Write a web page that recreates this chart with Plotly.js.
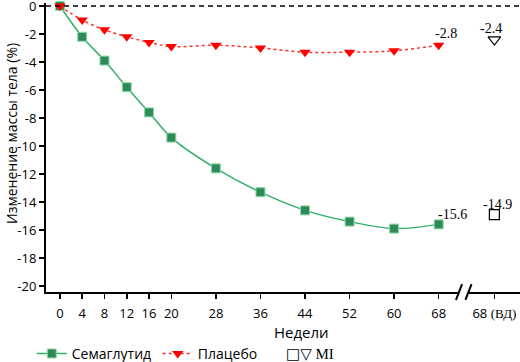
<!DOCTYPE html>
<html>
<head>
<meta charset="utf-8">
<script src="https://cdn.plot.ly/plotly-3.0.1.min.js"></script>
<style>html,body{margin:0;padding:0;background:#fff}#chart{width:520px;height:362px}</style>
</head>
<body>
<div id="chart"></div>
<script>
// Weeks of observation
const weeks = [0, 4, 8, 12, 16, 20, 28, 36, 44, 52, 60, 68];
// Mean body-weight change (%) by week
const semaglutide = [0, -2.2, -3.9, -5.8, -7.6, -9.4, -11.6, -13.3, -14.6, -15.4, -15.9, -15.6];
const placebo = [0, -1.0, -1.7, -2.2, -2.6, -2.9, -2.8, -3.0, -3.3, -3.3, -3.2, -2.8];
// Multiple-imputation estimates at week 68, plotted after the axis break
const miWeek = 78;
const miSemaglutide = -14.9;
const miPlacebo = -2.4;
// Axis ticks
const xTickVals = [0, 4, 8, 12, 16, 20, 28, 36, 44, 52, 60, 68, 78];
const xTickText = ['0', '4', '8', '12', '16', '20', '28', '36', '44', '52', '60', '68',
  '68 <span style="font-family:Liberation Serif">(ВД)</span>'];
const yTickVals = [0, -2, -4, -6, -8, -10, -12, -14, -16, -18, -20];
const yTickText = ['0', '-2', '-4', '-6', '-8', '-10', '-12', '-14', '-16', '-18', '-20'];

const serif = 'Liberation Serif, Times New Roman, serif';
const sans = 'Open Sans, Noto Sans, sans-serif';

const traces = [
  {
    x: weeks, y: semaglutide, name: 'Семаглутид', mode: 'lines+markers', cliponaxis: false,
    line: {color: '#33b06a', width: 1.5, shape: 'spline'},
    marker: {symbol: 'square', size: 9, color: '#2e8b57', line: {color: '#8fd9a8', width: 1}}
  },
  {
    x: weeks, y: placebo, name: 'Плацебо', mode: 'lines+markers', cliponaxis: false,
    line: {color: '#ff3030', width: 1.5, shape: 'spline', dash: 'dot'},
    marker: {symbol: 'triangle-down', size: 10, color: '#ff0000', line: {width: 0}}
  },
  {
    x: [miWeek], y: [miSemaglutide], mode: 'markers', showlegend: false,
    marker: {symbol: 'square-open', size: 10, color: '#000', line: {width: 1.2}}
  },
  {
    x: [miWeek], y: [miPlacebo], mode: 'markers', showlegend: false,
    marker: {symbol: 'triangle-down-open', size: 11, color: '#000', line: {width: 1.2}}
  }
];

const valueLabel = (x, y, xshift, yshift) => ({
  x: x, y: y, text: String(y), showarrow: false, xref: 'x', yref: 'y',
  xshift: xshift, yshift: yshift, font: {family: serif, size: 14, color: '#000'}
});

const layout = {
  width: 520, height: 362,
  margin: {l: 46, r: 0, t: 3, b: 70, autoexpand: false},
  paper_bgcolor: '#fff', plot_bgcolor: '#fff',
  font: {family: sans, size: 13, color: '#000'},
  xaxis: {
    range: [-2.5, 82.6], tickmode: 'array', tickvals: xTickVals, ticktext: xTickText,
    showline: true, linecolor: '#000', linewidth: 2, ticks: 'outside', ticklen: 5,
    tickwidth: 1.5, tickcolor: '#000', showgrid: false, zeroline: false,
    ticklabelstandoff: 3, ticklabeloverflow: 'allow', automargin: false,
    tickfont: {family: sans, size: 13}
  },
  yaxis: {
    range: [-20.43, 0.214], tickmode: 'array', tickvals: yTickVals, ticktext: yTickText,
    showline: true, linecolor: '#000', linewidth: 2, ticks: 'outside', ticklen: 5,
    tickwidth: 1.5, tickcolor: '#000', showgrid: false, zeroline: false,
    ticklabeloverflow: 'allow', automargin: false, tickfont: {family: sans, size: 13}
  },
  showlegend: true,
  legend: {
    orientation: 'h', x: -0.03, y: -0.214, xanchor: 'left', yanchor: 'middle',
    font: {family: sans, size: 14}, itemwidth: 30, entrywidth: 81
  },
  shapes: [
    // zero reference line
    {type: 'line', xref: 'x', yref: 'y', x0: -2.5, x1: 82.6, y0: 0, y1: 0,
     line: {color: '#000', width: 1.5, dash: '5px,4px'}},
    // axis break: gap and two slashes
    {type: 'line', xref: 'x', yref: 'paper', x0: 71.6, x1: 73.4, y0: 0, y1: 0,
     line: {color: '#fff', width: 4}},
    {type: 'line', xref: 'x', yref: 'paper', x0: 71.1, x1: 72.2, y0: -0.027, y1: 0.027,
     line: {color: '#000', width: 2}},
    {type: 'line', xref: 'x', yref: 'paper', x0: 72.8, x1: 73.9, y0: -0.027, y1: 0.027,
     line: {color: '#000', width: 2}}
  ],
  annotations: [
    valueLabel(68, placebo[11], 7, 12),
    valueLabel(miWeek, miPlacebo, -3, 11),
    valueLabel(68, semaglutide[11], 14, 10),
    valueLabel(miWeek, miSemaglutide, 3, 10),
    // axis titles
    {x: 0.54, xref: 'paper', y: -0.138, yref: 'paper', text: 'Недели', showarrow: false,
     xanchor: 'center', yanchor: 'middle', font: {family: sans, size: 15, color: '#000'}},
    {x: -0.074, xref: 'paper', y: 0.55, yref: 'paper', text: 'Изменение массы тела (%)',
     textangle: -90, showarrow: false, xanchor: 'center', yanchor: 'middle',
     font: {family: sans, size: 14, color: '#000'}},
    // legend key for the imputed values
    {x: 0.502, xref: 'paper', y: -0.214, yref: 'paper', xanchor: 'left', yanchor: 'middle',
     showarrow: false, text: '<span style="font-family:DejaVu Sans">□▽</span> MI',
     font: {family: serif, size: 15, color: '#000'}}
  ]
};

Plotly.newPlot('chart', traces, layout, {displayModeBar: false, staticPlot: true});
</script>
</body>
</html>
